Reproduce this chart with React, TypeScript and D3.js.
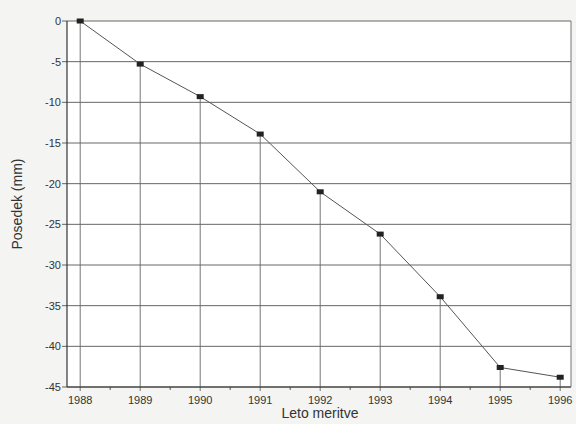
import React from "react";
import * as d3 from "d3";

const years = [1988, 1989, 1990, 1991, 1992, 1993, 1994, 1995, 1996];
const settlement = [0, -5.3, -9.3, -13.9, -21.0, -26.2, -33.9, -42.6, -43.8];
const yTicks = [0, -5, -10, -15, -20, -25, -30, -35, -40, -45];

const W = 576;
const H = 424;
const margin = { top: 21, right: 5, bottom: 37, left: 67 };

const App = () => {
  const x = d3.scaleLinear().domain([1987.78, 1996.18]).range([margin.left, W - margin.right]);
  const y = d3.scaleLinear().domain([0, -45]).range([margin.top, H - margin.bottom]);

  const path = d3
    .line<number>()
    .x((_, i) => x(years[i]))
    .y((v) => y(v))(settlement);

  const minorTicks = years.slice(0, -1).map((yr) => yr + 0.5);
  const bottom = y(-45);

  return (
    <svg width={W} height={H} style={{ position: "absolute", left: 0, top: 0, background: "#f4f4f2" }}>
      <rect x={margin.left} y={y(0)} width={W - margin.right - margin.left} height={bottom - y(0)} fill="#ffffff" />
      {/* horizontal grid */}
      {yTicks.map((t) => (
        <line key={t} x1={margin.left - 5} x2={W - margin.right} y1={y(t)} y2={y(t)} stroke="#555" strokeWidth={0.9} />
      ))}
      {/* drop lines */}
      {years.map((yr, i) => (
        <line key={yr} x1={x(yr)} x2={x(yr)} y1={y(settlement[i])} y2={bottom + 4} stroke="#666" strokeWidth={0.9} />
      ))}
      {minorTicks.map((t) => (
        <line key={t} x1={x(t)} x2={x(t)} y1={bottom} y2={bottom + 3} stroke="#555" />
      ))}
      {/* frame */}
      <line x1={margin.left} x2={margin.left} y1={y(0)} y2={bottom} stroke="#333" strokeWidth={1.2} />
      <line x1={margin.left} x2={W - margin.right} y1={bottom} y2={bottom} stroke="#333" strokeWidth={1.2} />
      <line x1={W - margin.right} x2={W - margin.right} y1={y(0)} y2={bottom} stroke="#777" />
      <path d={path ?? ""} fill="none" stroke="#555" strokeWidth={1} />
      {years.map((yr, i) => (
        <rect key={yr} x={x(yr) - 3.5} y={y(settlement[i]) - 2.5} width={7} height={5} fill="#222" />
      ))}
      {/* labels */}
      <g fontFamily="Liberation Sans, Arial, sans-serif" fontSize={11} fill="#333">
        {yTicks.map((t) => (
          <text key={t} x={margin.left - 6} y={y(t)} dy="0.35em" textAnchor="end">
            {t}
          </text>
        ))}
        {years.map((yr) => (
          <text key={yr} x={x(yr)} y={bottom + 17} textAnchor="middle">
            {yr}
          </text>
        ))}
      </g>
      <text
        x={W / 2 + 32}
        y={H - 6}
        textAnchor="middle"
        fontFamily="Liberation Sans, Arial, sans-serif"
        fontSize={14}
        fill="#333"
      >
        Leto meritve
      </text>
      <text
        transform={`translate(22, ${(y(0) + bottom) / 2}) rotate(-90)`}
        textAnchor="middle"
        fontFamily="Liberation Sans, Arial, sans-serif"
        fontSize={14}
        fill="#333"
      >
        Posedek (mm)
      </text>
    </svg>
  );
};

export default App;
